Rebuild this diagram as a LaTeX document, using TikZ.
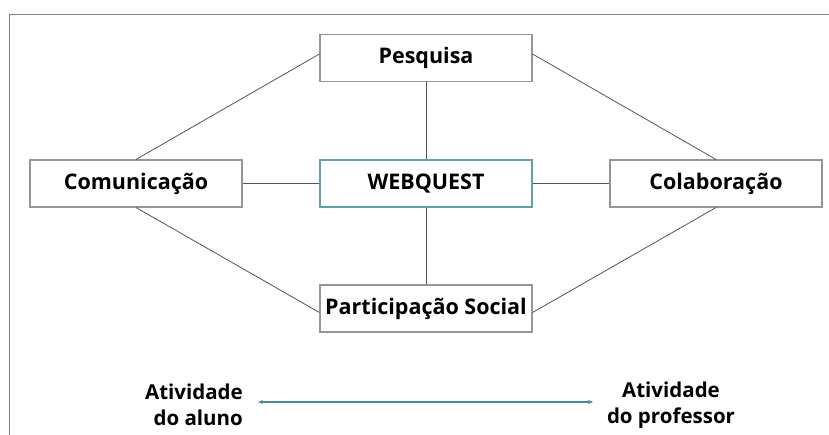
\documentclass[tikz,border=0pt]{standalone}
\usepackage{fontspec}
\setmainfont{Open Sans}
\usetikzlibrary{arrows.meta,calc}
\definecolor{boxgray}{RGB}{150,150,150}
\definecolor{linkgray}{RGB}{85,85,85}
\definecolor{framegray}{RGB}{130,130,130}
\definecolor{wqteal}{RGB}{95,160,170}
\definecolor{arrteal}{RGB}{70,140,160}
\tikzset{
  topic/.style={draw=boxgray, line width=1.1pt, fill=white, minimum width=212pt,
    minimum height=47pt, inner sep=0pt,
    font=\fontsize{21.5}{25}\selectfont\bfseries},
  core/.style={topic, draw=wqteal},
  link/.style={draw=linkgray, line width=0.8pt},
  caption/.style={font=\fontsize{20.5}{26.5}\selectfont\bfseries, inner sep=0pt}
}
\begin{document}
\begin{tikzpicture}[x=1pt,y=-1pt]
  \useasboundingbox (0,0) rectangle (829,435);
  % outer frame, open on the right and at the bottom
  \draw[framegray, line width=0.8pt] (9,435) -- (9,14) -- (829,14);

  \node[topic] (pesq) at (426,58) {Pesquisa};
  \node[core]  (wq)   at (426,183.5) {WEBQUEST};
  \node[topic] (part) at (426,308.5) {Participação Social};
  \node[topic] (com)  at (136,183.5) {Comunicação};
  \node[topic] (col)  at (716,183.5) {Colaboração};

  % spokes from the centre
  \draw[link] (pesq) -- (wq);
  \draw[link] (wq) -- (part);
  \draw[link] (com) -- (wq);
  \draw[link] (wq) -- (col);

  % outer ring
  \draw[link] ([yshift=4pt]pesq.west) -- (com.north);
  \draw[link] ([yshift=4pt]pesq.east) -- (col.north);
  \draw[link] (com.south) -- ([yshift=-4pt]part.west);
  \draw[link] (col.south) -- ([yshift=-4pt]part.east);

  % activity scale
  \node[caption, align=right, anchor=east] (aluno) at (243,405) {Atividade\\do aluno};
  \node[caption, align=center] (prof) at (671,405) {Atividade\\do professor};
  \coordinate (s1) at (258,402);
  \coordinate (s2) at (593,402);
  \draw[arrteal, line width=1.2pt, {Stealth[length=5pt,width=4pt]}-{Stealth[length=5pt,width=4pt]}] (s1) -- (s2);
\end{tikzpicture}
\end{document}
